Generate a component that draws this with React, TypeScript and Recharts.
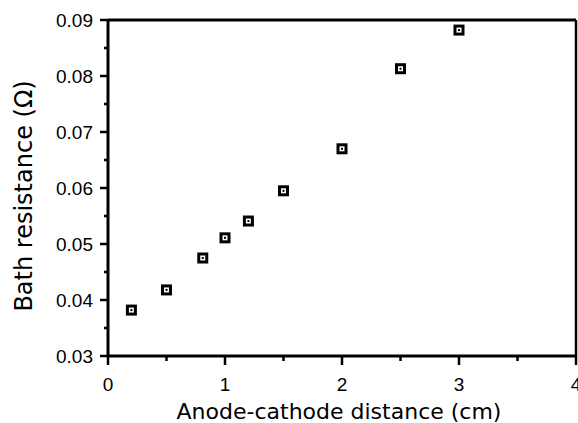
import React from "react";
import { ScatterChart, Scatter, XAxis, YAxis, ReferenceLine, Label } from "recharts";

const distances = [0.2, 0.5, 0.81, 1.0, 1.2, 1.5, 2.0, 2.5, 3.0];
const resistances = [0.0382, 0.0418, 0.0475, 0.0511, 0.0541, 0.0595, 0.067, 0.0813, 0.0882];
const xTicks = [0, 0.5, 1, 1.5, 2, 2.5, 3, 3.5, 4];
const yTicks = [0.03, 0.035, 0.04, 0.045, 0.05, 0.055, 0.06, 0.065, 0.07, 0.075, 0.08, 0.085, 0.09];
const xLabel = "Anode-cathode distance (cm)";
const yLabel = "Bath resistance (Ω)";

const data = distances.map((d, i) => ({ x: d, y: resistances[i] }));

const TICK_FONT = "'Liberation Sans', Arial, Helvetica, sans-serif";
const LABEL_FONT = "'DejaVu Sans', sans-serif";

const X_TICK_SIZE = 8;
const X_TICK_MARGIN = 13;
const Y_TICK_SIZE = 7;
const Y_TICK_MARGIN = 8;

const XTick = (props: any) => {
  const { x, y, payload } = props;
  const v = payload.value as number;
  const major = Math.abs(v - Math.round(v)) < 1e-6;
  const axisY = y - X_TICK_SIZE - X_TICK_MARGIN;
  return (
    <g>
      <line x1={x} x2={x} y1={axisY} y2={axisY + (major ? 9 : 5)} stroke="#000" strokeWidth={2.5} />
      {major && (
        <text x={x} y={axisY + 35} textAnchor="middle" fontFamily={TICK_FONT} fontSize={19} fill="#000">
          {String(Math.round(v))}
        </text>
      )}
    </g>
  );
};

const YTick = (props: any) => {
  const { x, y, payload } = props;
  const v = payload.value as number;
  const major = Math.abs(v * 100 - Math.round(v * 100)) < 1e-6;
  const axisX = x + Y_TICK_SIZE + Y_TICK_MARGIN;
  return (
    <g>
      <line x1={axisX - (major ? 8 : 4)} x2={axisX} y1={y} y2={y} stroke="#000" strokeWidth={2.5} />
      {major && (
        <text x={axisX - 15} y={y} dy="0.36em" textAnchor="end" fontFamily={TICK_FONT} fontSize={19} fill="#000">
          {v.toFixed(2)}
        </text>
      )}
    </g>
  );
};

const Marker = (props: any) => {
  const { cx, cy } = props;
  if (cx == null || cy == null) return null;
  return (
    <g>
      <rect x={cx - 5.5} y={cy - 5.5} width={11} height={11} fill="#000" />
      <rect x={cx - 2.5} y={cy - 2.5} width={5} height={5} fill="#fff" />
      <rect x={cx - 1} y={cy - 1} width={2} height={2} fill="#000" />
    </g>
  );
};

export default function App() {
  return (
    <div style={{ position: "absolute", left: 0, top: 0, background: "#fff" }}>
      <ScatterChart width={578} height={423} margin={{ top: 20, right: 2, bottom: 0, left: 0 }}>
        <XAxis
          type="number"
          dataKey="x"
          domain={[0, 4]}
          ticks={xTicks}
          interval={0}
          height={67}
          tickSize={X_TICK_SIZE}
          tickMargin={X_TICK_MARGIN}
          tickLine={false}
          stroke="#000"
          strokeWidth={3}
          axisLine={{ stroke: "#000", strokeWidth: 3 }}
          tick={<XTick />}
          allowDataOverflow
        >
          <Label
            content={(p: any) => {
              const vb = p.viewBox || { x: 108, y: 356, width: 468, height: 67 };
              return (
                <text
                  x={vb.x + vb.width / 2 - 3}
                  y={vb.y + 63}
                  textAnchor="middle"
                  fontFamily={LABEL_FONT}
                  fontSize={22}
                  fill="#000"
                >
                  {xLabel}
                </text>
              );
            }}
          />
        </XAxis>
        <YAxis
          type="number"
          dataKey="y"
          domain={[0.03, 0.09]}
          ticks={yTicks}
          interval={0}
          width={108}
          tickSize={Y_TICK_SIZE}
          tickMargin={Y_TICK_MARGIN}
          tickLine={false}
          stroke="#000"
          strokeWidth={3}
          axisLine={{ stroke: "#000", strokeWidth: 3 }}
          tick={<YTick />}
          allowDataOverflow
        >
          <Label
            content={(p: any) => {
              const vb = p.viewBox || { x: 0, y: 20, width: 108, height: 336 };
              const cx = vb.x + 32;
              const cy = vb.y + vb.height / 2 + 8;
              return (
                <text
                  x={cx}
                  y={cy}
                  transform={`rotate(-90, ${cx}, ${cy})`}
                  textAnchor="middle"
                  fontFamily={LABEL_FONT}
                  fontSize={24}
                  fill="#000"
                >
                  {yLabel}
                </text>
              );
            }}
          />
        </YAxis>
        <ReferenceLine y={0.09} stroke="#000" strokeWidth={3} />
        <ReferenceLine x={4} stroke="#000" strokeWidth={2.5} />
        <Scatter data={data} shape={<Marker />} isAnimationActive={false} />
      </ScatterChart>
    </div>
  );
}
